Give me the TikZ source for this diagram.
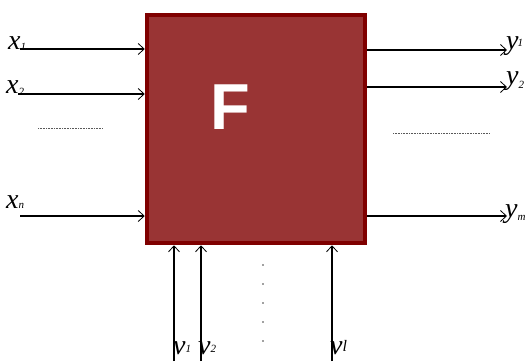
\documentclass[tikz,border=0pt]{standalone}
\usepackage{fontspec}
\setmainfont{Liberation Serif}
\newfontfamily\boxfont{Liberation Sans}
\usetikzlibrary{arrows.meta}
\definecolor{boxfill}{HTML}{993434}
\definecolor{boxedge}{HTML}{7F0000}
\tikzset{
  sig/.style={line width=1.4pt, -{Straight Barb[length=6pt,width=11pt,line width=0.8pt]}},
  vsig/.style={line width=1.1pt, -{Straight Barb[length=6pt,width=11pt,line width=0.8pt]}},
  lbl/.style={inner sep=0pt, anchor=base west, font=\fontsize{28}{28}\selectfont\itshape},
  dotrow/.style={densely dotted, line width=0.6pt, gray!70!black},
}
% index set small and shifted by #1
\newcommand{\idx}[2][0pt]{\raisebox{#1}{\fontsize{11}{11}\selectfont #2}}
\begin{document}
\begin{tikzpicture}[x=1pt,y=-1pt]
  \useasboundingbox (0,0) rectangle (529,361);
  % main block
  \node[draw=boxedge, fill=boxfill, line width=4.5pt, minimum width=218pt,
        minimum height=228pt, inner sep=0pt] (F) at (256,129) {};
  \node[text=white, font=\boxfont\bfseries\fontsize{65}{65}\selectfont, inner sep=0pt]
        (Fl) at (230,107) {F};

  % inputs
  \coordinate (xa) at (20,49);
  \coordinate (xb) at (18,94);
  \coordinate (xc) at (20,216);
  \draw[sig] (xa) -- (xa -| F.west);
  \draw[sig] (xb) -- (xb -| F.west);
  \draw[sig] (xc) -- (xc -| F.west);
  \node[lbl] (lx1) at (8,49) {x\idx[-1pt]{1}};
  \node[lbl] (lx2) at (6,93) {x\idx[-2pt]{2}};
  \node[lbl] (lxn) at (6,208) {x\idx{n}};
  \coordinate (dl1) at (38,128);
  \coordinate (dl2) at (103,128);
  \draw[dotrow] (dl1) -- (dl2);

  % outputs
  \coordinate (ya) at (507,50);
  \coordinate (yb) at (507,87);
  \coordinate (yc) at (507,216);
  \draw[sig] (ya -| F.east) -- (ya);
  \draw[sig] (yb -| F.east) -- (yb);
  \draw[sig] (yc -| F.east) -- (yc);
  \node[lbl] (ly1) at (506,49) {y\kern-1pt\idx[3pt]{1}};
  \node[lbl] (ly2) at (506,84) {y\idx[-4pt]{2}};
  \node[lbl] (lym) at (505,217) {y\idx[-3pt]{m}};
  \coordinate (dr1) at (393,133);
  \coordinate (dr2) at (490,133);
  \draw[dotrow] (dr1) -- (dr2);

  % parameters from below
  \coordinate (va) at (174,361);
  \coordinate (vb) at (201,361);
  \coordinate (vc) at (332,361);
  \draw[vsig] (va) -- (va |- F.south);
  \draw[vsig] (vb) -- (vb |- F.south);
  \draw[vsig] (vc) -- (vc |- F.south);
  \node[lbl] (lv1) at (173,354) {v\idx[2pt]{1}};
  \node[lbl] (lv2) at (198,354) {v\idx[2pt]{2}};
  \node[lbl] (lvl) at (330,354) {v\raisebox{3pt}{\fontsize{16}{16}\selectfont l}};
  \foreach \k in {0,...,4}
    \fill[gray!50!black] (263,265+19*\k) circle (0.9pt);
\end{tikzpicture}
\end{document}
